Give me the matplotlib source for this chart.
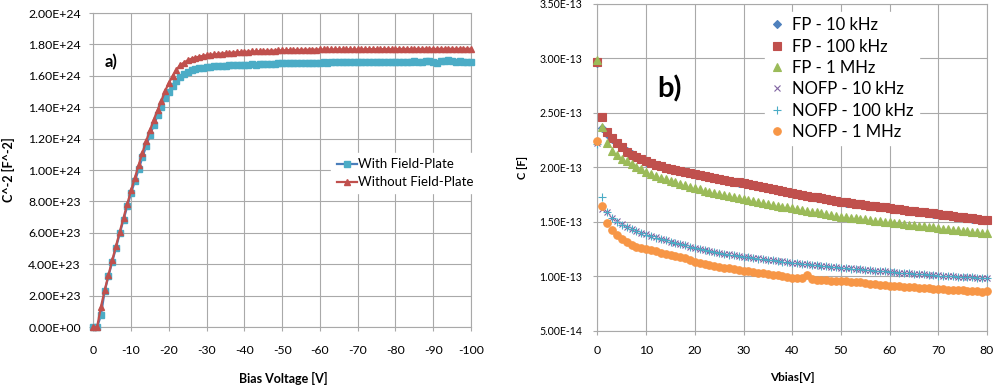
import numpy as np
import matplotlib
matplotlib.use("Agg")
import matplotlib.pyplot as plt
from matplotlib.ticker import FuncFormatter

plt.rcParams["font.family"] = ["Lato", "DejaVu Sans"]
plt.rcParams["axes.unicode_minus"] = False

# =========================
# data: panel a)  (C^-2 vs bias, units of 1e24 F^-2)
# =========================

bias_a = list(range(0, -101, -1))

with_fp = [
    0.000, 0.000, 0.074, 0.229, 0.323, 0.416, 0.505, 0.597, 0.684, 0.771,
    0.854, 0.930, 1.004, 1.083, 1.153, 1.223, 1.285, 1.348, 1.403, 1.459,
    1.500, 1.533, 1.567, 1.592, 1.610, 1.624, 1.635, 1.641, 1.648, 1.652,
    1.656, 1.658, 1.660, 1.662, 1.664, 1.665, 1.667, 1.668, 1.669, 1.670,
    1.671, 1.672, 1.673, 1.672, 1.675, 1.676, 1.676, 1.677, 1.678, 1.679,
    1.680, 1.680, 1.681, 1.680, 1.682, 1.682, 1.683, 1.682, 1.684, 1.684,
    1.684, 1.685, 1.684, 1.685, 1.686, 1.687, 1.685, 1.686, 1.687, 1.686,
    1.686, 1.687, 1.688, 1.687, 1.688, 1.689, 1.688, 1.690, 1.689, 1.690,
    1.690, 1.690, 1.691, 1.690, 1.691, 1.692, 1.690, 1.691, 1.692, 1.693,
    1.690, 1.684, 1.692, 1.697, 1.698, 1.694, 1.690, 1.692, 1.691, 1.690,
    1.690,
]

without_fp = [
    0.000, 0.000, 0.127, 0.234, 0.331, 0.425, 0.516, 0.607, 0.696, 0.786,
    0.870, 0.951, 1.032, 1.110, 1.185, 1.253, 1.321, 1.380, 1.440, 1.503,
    1.556, 1.599, 1.637, 1.669, 1.684, 1.699, 1.709, 1.716, 1.722, 1.727,
    1.731, 1.734, 1.737, 1.740, 1.742, 1.744, 1.746, 1.748, 1.750, 1.751,
    1.753, 1.754, 1.755, 1.756, 1.757, 1.758, 1.759, 1.760, 1.761, 1.762,
    1.763, 1.763, 1.764, 1.764, 1.765, 1.765, 1.766, 1.766, 1.767, 1.767,
    1.768, 1.768, 1.768, 1.768, 1.769, 1.769, 1.768, 1.769, 1.769, 1.768,
    1.768, 1.769, 1.769, 1.770, 1.770, 1.770, 1.770, 1.770, 1.771, 1.770,
    1.770, 1.771, 1.771, 1.771, 1.770, 1.771, 1.771, 1.771, 1.772, 1.771,
    1.771, 1.771, 1.772, 1.771, 1.772, 1.772, 1.771, 1.772, 1.772, 1.772,
    1.772,
]

# =========================
# data: panel b)  (C vs Vbias, units of 1e-13 F)
# =========================

vbias_b = list(range(0, 81))

fp_10k = [
    2.960, 2.360, 2.310, 2.262, 2.220, 2.190, 2.150, 2.120, 2.095, 2.074,
    2.054, 2.039, 2.024, 2.009, 1.996, 1.984, 1.974, 1.965, 1.956, 1.947,
    1.939, 1.930, 1.921, 1.912, 1.903, 1.894, 1.886, 1.878, 1.870, 1.862,
    1.854, 1.845, 1.836, 1.827, 1.818, 1.809, 1.800, 1.791, 1.782, 1.773,
    1.764, 1.756, 1.748, 1.740, 1.732, 1.724, 1.716, 1.708, 1.700, 1.692,
    1.684, 1.678, 1.672, 1.667, 1.661, 1.655, 1.650, 1.644, 1.638, 1.633,
    1.627, 1.621, 1.616, 1.610, 1.604, 1.599, 1.593, 1.588, 1.582, 1.577,
    1.571, 1.565, 1.560, 1.554, 1.548, 1.543, 1.537, 1.531, 1.526, 1.520,
    1.514,
]

fp_100k = [
    2.970, 2.463, 2.325, 2.270, 2.223, 2.186, 2.146, 2.118, 2.094, 2.075,
    2.055, 2.040, 2.025, 2.010, 1.997, 1.985, 1.975, 1.966, 1.957, 1.948,
    1.940, 1.931, 1.922, 1.913, 1.904, 1.895, 1.887, 1.879, 1.871, 1.863,
    1.855, 1.846, 1.837, 1.828, 1.819, 1.810, 1.801, 1.792, 1.783, 1.774,
    1.765, 1.757, 1.749, 1.741, 1.733, 1.725, 1.717, 1.709, 1.701, 1.693,
    1.685, 1.679, 1.673, 1.668, 1.662, 1.656, 1.651, 1.645, 1.639, 1.634,
    1.628, 1.622, 1.617, 1.611, 1.605, 1.600, 1.594, 1.589, 1.583, 1.578,
    1.572, 1.566, 1.561, 1.555, 1.549, 1.544, 1.538, 1.532, 1.527, 1.521,
    1.515,
]

fp_1m = [
    2.990, 2.370, 2.223, 2.155, 2.110, 2.080, 2.057, 2.030, 2.006, 1.983,
    1.960, 1.942, 1.925, 1.908, 1.892, 1.877, 1.863, 1.849, 1.836, 1.823,
    1.810, 1.798, 1.787, 1.776, 1.765, 1.755, 1.745, 1.736, 1.727, 1.717,
    1.708, 1.699, 1.690, 1.681, 1.672, 1.664, 1.656, 1.649, 1.641, 1.634,
    1.627, 1.619, 1.611, 1.603, 1.596, 1.588, 1.581, 1.573, 1.566, 1.558,
    1.550, 1.545, 1.540, 1.534, 1.529, 1.524, 1.518, 1.513, 1.508, 1.502,
    1.497, 1.492, 1.487, 1.481, 1.476, 1.471, 1.466, 1.461, 1.455, 1.450,
    1.445, 1.440, 1.435, 1.430, 1.425, 1.420, 1.415, 1.410, 1.405, 1.400,
    1.395,
]

nofp_10k = [
    2.220, 1.620, 1.590, 1.540, 1.505, 1.478, 1.455, 1.435, 1.417, 1.400,
    1.386, 1.372, 1.358, 1.345, 1.332, 1.320, 1.309, 1.297, 1.286, 1.275,
    1.265, 1.255, 1.245, 1.235, 1.225, 1.216, 1.209, 1.202, 1.195, 1.189,
    1.183, 1.177, 1.171, 1.165, 1.159, 1.153, 1.148, 1.143, 1.138, 1.133,
    1.128, 1.123, 1.118, 1.114, 1.109, 1.105, 1.100, 1.096, 1.091, 1.087,
    1.082, 1.078, 1.074, 1.070, 1.066, 1.062, 1.058, 1.054, 1.050, 1.047,
    1.043, 1.040, 1.036, 1.033, 1.030, 1.026, 1.023, 1.020, 1.016, 1.013,
    1.010, 1.007, 1.005, 1.002, 0.999, 0.997, 0.994, 0.992, 0.989, 0.987,
    0.984,
]

nofp_100k = [
    2.215, 1.730, 1.588, 1.536, 1.503, 1.476, 1.453, 1.434, 1.416, 1.399,
    1.384, 1.371, 1.357, 1.344, 1.331, 1.319, 1.307, 1.296, 1.285, 1.274,
    1.264, 1.254, 1.244, 1.234, 1.224, 1.215, 1.208, 1.201, 1.194, 1.188,
    1.182, 1.176, 1.170, 1.164, 1.158, 1.152, 1.147, 1.142, 1.137, 1.132,
    1.127, 1.122, 1.117, 1.113, 1.108, 1.104, 1.099, 1.095, 1.090, 1.086,
    1.081, 1.077, 1.073, 1.069, 1.065, 1.061, 1.057, 1.053, 1.049, 1.046,
    1.042, 1.039, 1.035, 1.032, 1.029, 1.025, 1.022, 1.019, 1.015, 1.012,
    1.009, 1.006, 1.004, 1.001, 0.998, 0.996, 0.993, 0.991, 0.988, 0.986,
    0.983,
]

nofp_1m = [
    2.240, 1.646, 1.495, 1.428, 1.382, 1.345, 1.315, 1.293, 1.275, 1.263,
    1.254, 1.243, 1.232, 1.219, 1.206, 1.193, 1.185, 1.177, 1.165, 1.148,
    1.130, 1.124, 1.117, 1.109, 1.098, 1.088, 1.082, 1.075, 1.068, 1.060,
    1.052, 1.047, 1.042, 1.036, 1.030, 1.024, 1.018, 1.010, 1.002, 0.996,
    0.990, 0.988, 0.985, 1.012, 0.978, 0.972, 0.969, 0.966, 0.963, 0.961,
    0.958, 0.955, 0.952, 0.950, 0.947, 0.940, 0.933, 0.928, 0.924, 0.920,
    0.916, 0.913, 0.910, 0.907, 0.904, 0.900, 0.897, 0.893, 0.890, 0.886,
    0.883, 0.881, 0.879, 0.877, 0.875, 0.872, 0.870, 0.867, 0.864, 0.862,
    0.866,
]

yticks_a = [0, 2e23, 4e23, 6e23, 8e23, 1e24, 1.2e24, 1.4e24, 1.6e24, 1.8e24, 2e24]
xticks_a = [0, -10, -20, -30, -40, -50, -60, -70, -80, -90, -100]
yticks_b = [5e-14, 1e-13, 1.5e-13, 2e-13, 2.5e-13, 3e-13, 3.5e-13]
xticks_b = [0, 10, 20, 30, 40, 50, 60, 70, 80]

# =========================
# figure
# =========================

GRID = "#a9a9a9"
sci = FuncFormatter(lambda v, p: f"{v:.2E}")

fig = plt.figure(figsize=(9.93, 3.85), dpi=100)

ax1 = fig.add_axes([0.094, 0.1506, 0.3803, 0.8156])
ax2 = fig.add_axes([0.6017, 0.1403, 0.3922, 0.8494])

for ax in (ax1, ax2):
    ax.grid(True, color=GRID, linewidth=0.8)
    ax.set_axisbelow(True)
    for s in ax.spines.values():
        s.set_color(GRID)
        s.set_linewidth(0.8)
    ax.tick_params(color=GRID, length=3, width=0.8)
    ax.yaxis.set_major_formatter(sci)

# ---- panel a)
ax1.plot(bias_a, np.array(with_fp) * 1e24, color="#4A7EBB", linewidth=1.6,
         marker="s", markersize=3.8, markerfacecolor="#4BACC6",
         markeredgecolor="#4BACC6", label="With Field-Plate", clip_on=False,
         zorder=3)
ax1.plot(bias_a, np.array(without_fp) * 1e24, color="#C0504D", linewidth=1.6,
         marker="^", markersize=3.8, markerfacecolor="#C0504D",
         markeredgecolor="#C0504D", label="Without Field-Plate", clip_on=False,
         zorder=4)

ax1.set_xlim(0, -100)
ax1.set_ylim(0, 2e24)
ax1.set_xticks(xticks_a)
ax1.set_yticks(yticks_a)
ax1.tick_params(axis="y", labelsize=8.8, pad=6)
ax1.tick_params(axis="x", labelsize=8.8, pad=10)

ax1.set_xlabel("Bias Voltage [V]", fontsize=9, fontweight="bold")
ax1.xaxis.set_label_coords(0.502, -0.143)
ax1.set_ylabel("C^-2 [F^-2]", fontsize=9, fontweight="bold")
ax1.yaxis.set_label_coords(-0.207, 0.5)

ax1.text(0.029, 0.845, "a)", transform=ax1.transAxes, fontsize=12,
         fontweight="bold", ha="left", va="center")

leg1 = ax1.legend(loc="center left", bbox_to_anchor=(0.613, 0.49), fontsize=9.5,
                  frameon=True, fancybox=False, edgecolor="white",
                  framealpha=1, handlelength=1.5, handletextpad=0.1,
                  labelspacing=0.45, borderpad=0.4)

# ---- panel b)
series_b = [
    (fp_10k, "D", "#4F81BD", 3.6, "FP - 10 kHz"),
    (fp_100k, "s", "#C0504D", 5.2, "FP - 100 kHz"),
    (fp_1m, "^", "#9BBB59", 5.2, "FP - 1 MHz"),
    (nofp_10k, "x", "#8064A2", 4.4, "NOFP - 10 kHz"),
    (nofp_100k, "+", "#4BACC6", 5.2, "NOFP - 100 kHz"),
    (nofp_1m, "o", "#F79646", 5.4, "NOFP - 1 MHz"),
]

for vals, mk, col, ms, lab in series_b:
    ax2.plot(vbias_b, np.array(vals) * 1e-13, linestyle="none", marker=mk,
             markersize=ms, color=col, markeredgecolor=col,
             markeredgewidth=0.8, label=lab, clip_on=False, zorder=3)

ax2.set_xlim(0, 80)
ax2.set_ylim(5e-14, 3.5e-13)
ax2.set_xticks(xticks_b)
ax2.set_yticks(yticks_b)
ax2.tick_params(axis="y", labelsize=7.6, pad=8)
ax2.tick_params(axis="x", labelsize=8.8, pad=7)

ax2.set_xlabel("Vbias[V]", fontsize=8.5, fontweight="bold")
ax2.xaxis.set_label_coords(0.5, -0.125)
ax2.set_ylabel("C [F]", fontsize=8, fontweight="bold")
ax2.yaxis.set_label_coords(-0.178, 0.5)

ax2.text(0.153, 0.739, "b)", transform=ax2.transAxes, fontsize=21,
         fontweight="bold", ha="left", va="center")

leg2 = ax2.legend(loc="upper left", bbox_to_anchor=(0.41, 1.0), fontsize=12,
                  frameon=True, fancybox=False, edgecolor="white",
                  framealpha=1, handlelength=0.8, handletextpad=0.5,
                  labelspacing=0.32, borderpad=0.3)

fig.savefig("out.png", dpi=100)
